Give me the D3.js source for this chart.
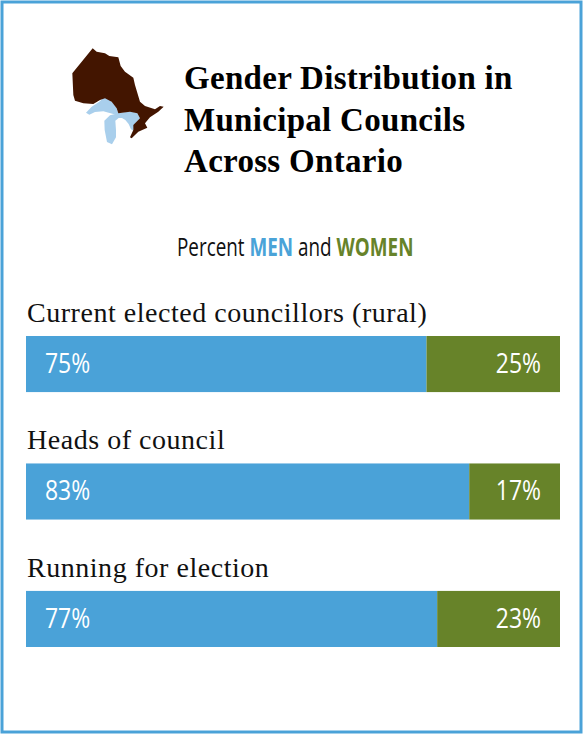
<!DOCTYPE html>
<html>
<head>
<meta charset="utf-8">
<script src="https://cdn.jsdelivr.net/npm/d3@7"></script>
<style>
  html, body { margin: 0; padding: 0; background: #fff; }
</style>
</head>
<body>
<div id="viz"></div>
<script>
// the numbers
const categories = ["Current elected councillors (rural)", "Heads of council", "Running for election"];
const men = [75, 83, 77];
const women = [25, 17, 23];
const titleLines = ["Gender Distribution in", "Municipal Councils", "Across Ontario"];
const legendParts = [
  { text: "Percent ", fill: "#111", weight: 400 },
  { text: "MEN", fill: "#4aa3d8", weight: 700 },
  { text: " and ", fill: "#111", weight: 400 },
  { text: "WOMEN", fill: "#67832a", weight: 700 }
];

const blue = "#4aa2d8";
const green = "#678329";

const svg = d3.select("#viz")
  .append("svg")
  .attr("width", 583)
  .attr("height", 734)
  .style("display", "block");

// outer frame
svg.append("rect")
  .attr("x", 2).attr("y", 2)
  .attr("width", 579).attr("height", 730)
  .attr("fill", "#fff")
  .attr("stroke", "#4aa2d8")
  .attr("stroke-width", 3);

// Ontario map (coords are 3x)
const ontarioPath = "M128,55 L140,65 L165,70 L178,78 L205,82 L212,108 L225,125 L250,143 L255,165 L270,215 L285,228 L315,238 L330,228 L341,230 L325,245 L300,262 L285,280 L292,293 L265,305 L245,325 L240,322 L250,300 L250,285 L270,265 L262,250 L240,245 L205,250 L200,235 L185,215 L165,205 L150,210 L130,222 L100,220 L75,212 L70,195 L67,130 Z";
const lakesPath = "M108,248 L125,230 L148,215 L160,203 L175,206 L190,220 L200,235 L206,252 L190,252 L160,244 L135,246 L118,254 Z "
  + "M204,250 L240,244 L262,249 L271,266 L252,285 L250,302 L243,298 L236,282 L226,270 L216,264 L206,264 L196,272 L198,300 L198,322 L186,343 L171,336 L164,300 L163,272 L180,256 Z";
const map = svg.append("g").attr("transform", "translate(50,30) scale(0.3333)");
map.append("path").attr("d", lakesPath).attr("fill", "#a9cfec");
map.append("path").attr("d", ontarioPath).attr("fill", "#431500");

// title
svg.selectAll("text.title")
  .data(titleLines)
  .enter()
  .append("text")
  .attr("class", "title")
  .attr("x", 184)
  .attr("y", (d, i) => 89 + i * 41.5)
  .attr("font-family", "Liberation Serif")
  .attr("font-weight", 700)
  .attr("font-size", 33)
  .attr("letter-spacing", 0.3)
  .attr("fill", "#000")
  .text(d => d);

// legend line, squeezed because the original is a condensed face
const legend = svg.append("text")
  .attr("transform", "translate(177,256) scale(0.74,1)")
  .attr("font-family", "Open Sans")
  .attr("font-size", 25.5)
  .attr("xml:space", "preserve");
legend.selectAll("tspan")
  .data(legendParts)
  .enter()
  .append("tspan")
  .attr("fill", d => d.fill)
  .attr("font-weight", d => d.weight)
  .style("white-space", "pre")
  .text(d => d.text);

// scales
const x = d3.scaleLinear().domain([0, 100]).range([26, 560]);
const y = d3.scaleBand().domain(categories).range([336, 647]).paddingInner(0.56);

const rows = svg.selectAll("g.row")
  .data(categories)
  .enter()
  .append("g")
  .attr("class", "row");

rows.append("text")
  .attr("x", 27)
  .attr("y", d => y(d) - 14)
  .attr("font-family", "Liberation Serif")
  .attr("font-size", 28)
  .attr("letter-spacing", 0.53)
  .attr("fill", "#111")
  .text(d => d);

rows.append("rect")
  .attr("x", x(0))
  .attr("y", d => y(d))
  .attr("width", (d, i) => x(men[i]) - x(0))
  .attr("height", y.bandwidth())
  .attr("fill", blue);

rows.append("rect")
  .attr("x", (d, i) => x(men[i]))
  .attr("y", d => y(d))
  .attr("width", (d, i) => x(men[i] + women[i]) - x(men[i]))
  .attr("height", y.bandwidth())
  .attr("fill", green);

rows.append("text")
  .attr("transform", d => `translate(45,${y(d) + 37}) scale(0.82,1)`)
  .attr("font-family", "Open Sans")
  .attr("font-size", 28)
  .attr("fill", "#fff")
  .text((d, i) => men[i] + "%");

rows.append("text")
  .attr("transform", d => `translate(541,${y(d) + 37}) scale(0.82,1)`)
  .attr("text-anchor", "end")
  .attr("font-family", "Open Sans")
  .attr("font-size", 28)
  .attr("fill", "#fff")
  .text((d, i) => women[i] + "%");
</script>
</body>
</html>
